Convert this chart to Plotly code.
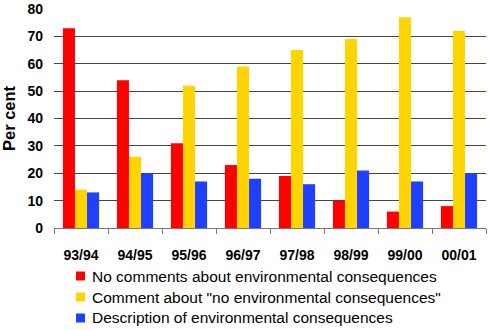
import plotly.graph_objects as go

# Reporting years
years = ["93/94", "94/95", "95/96", "96/97", "97/98", "98/99", "99/00", "00/01"]

# Share of reports (per cent) in each category
no_comments = [73, 54, 31, 23, 19, 10, 6, 8]
no_consequences = [14, 26, 52, 59, 65, 69, 77, 72]
description = [13, 20, 17, 18, 16, 21, 17, 20]

y_ticks = [0, 10, 20, 30, 40, 50, 60, 70, 80]

series = [
    ("No comments about environmental consequences", no_comments, "#FF0000"),
    ('Comment about "no environmental consequences"', no_consequences, "#FFD400"),
    ("Description of environmental consequences", description, "#2040FF"),
]

FONT = "Liberation Sans, Arial, sans-serif"

fig = go.Figure()
for name, vals, color in series:
    fig.add_trace(go.Bar(
        x=years, y=vals, name=name,
        marker=dict(color=color, line=dict(width=0)),
    ))

# Legend drawn below the plot: a colour key square and a label per series
plot_h = 330 - 9 - 102
plot_w = 490 - 54 - 4
key_x0 = 22 / plot_w
key_w = 9 / plot_w
key_h = 9 / plot_h
row_y = [-48 / plot_h, -69 / plot_h, -90 / plot_h]
for (name, _, color), yc in zip(series, row_y):
    fig.add_shape(
        type="rect", xref="paper", yref="paper",
        x0=key_x0, x1=key_x0 + key_w, y0=yc - key_h / 2, y1=yc + key_h / 2,
        fillcolor=color, line=dict(width=0),
    )
    fig.add_annotation(
        xref="paper", yref="paper", x=key_x0 + 14 / plot_w, y=yc,
        xanchor="left", yanchor="middle", showarrow=False,
        text=name, font=dict(size=15.5, family=FONT, color="black"),
    )

fig.update_layout(
    width=490, height=330,
    margin=dict(l=54, r=4, t=9, b=102, autoexpand=False),
    paper_bgcolor="white", plot_bgcolor="white",
    barmode="group", bargap=0.33, bargroupgap=0,
    font=dict(family=FONT, color="black"),
    showlegend=False,
    xaxis=dict(
        type="category", showgrid=False, showline=True, linecolor="#777777",
        linewidth=1, ticks="outside", tickson="boundaries", ticklen=5,
        tickcolor="#777777", tickfont=dict(size=14),
        ticklabelstandoff=14,
        tickvals=years, ticktext=[f"<b>{y}</b>" for y in years],
    ),
    yaxis=dict(
        range=[0, 80], tickvals=y_ticks, ticktext=[f"<b>{t}</b>" for t in y_ticks],
        showgrid=True, gridcolor="#444444",
        gridwidth=1, zeroline=False, showline=False,
        tickfont=dict(size=14), ticklabelstandoff=10,
        title=dict(text="<b>Per cent</b>", font=dict(size=16.5), standoff=10),
    ),
)

fig.write_html("out.html")
